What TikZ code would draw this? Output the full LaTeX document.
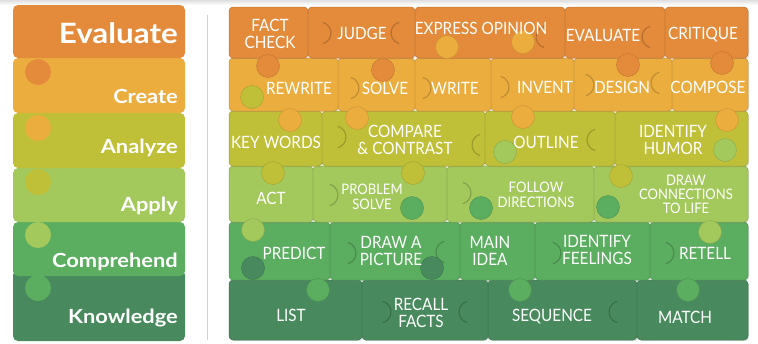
\documentclass[tikz,border=0pt]{standalone}
\usepackage{fontspec}
\setmainfont{Lato}
\newfontfamily\pz[FakeStretch=0.9]{Lato}
\newfontfamily\lv[FakeStretch=1.12]{Lato}
\usetikzlibrary{shadows}
\definecolor{cEv}{HTML}{E38A3B}
\definecolor{cCr}{HTML}{ECAD3F}
\definecolor{cAn}{HTML}{BFC038}
\definecolor{cAp}{HTML}{A3C85C}
\definecolor{cCo}{HTML}{5BAD60}
\definecolor{cKn}{HTML}{488A5E}
\tikzset{
  rowbox/.style={fill=#1, rounded corners=5pt},
  piece/.style={fill=#1, draw=#1!85!black, line width=0.5pt, rounded corners=4pt,
    drop shadow={opacity=0.22, shadow xshift=1.2pt, shadow yshift=-1.2pt}},
  knobc/.style={fill=#1, draw=#1!85!black, line width=0.4pt},
  crescent/.style={draw=#1!60!black, line width=1.1pt, opacity=0.5},
  lab/.style={text=white, font=\pz\fontsize{17}{17}\selectfont, align=center, inner sep=0pt},
  lvl/.style={text=white, font=\lv\bfseries\fontsize{19.5}{20}\selectfont, anchor=base east, inner sep=0pt},
}
\newcommand\knob[3]{\draw[knobc=#3] (#1,#2) circle (11.5);}
\newcommand\tabR[3]{\draw[crescent=#3] (#1,#2) ++(-75:11) arc[start angle=-75,end angle=75,radius=11];}
\newcommand\tabL[3]{\draw[crescent=#3] (#1,#2) ++(105:11) arc[start angle=105,end angle=255,radius=11];}
\begin{document}
\begin{tikzpicture}[x=1pt,y=-1pt]
\useasboundingbox (0,0) rectangle (758,343);
\fill[white] (0,0) rectangle (758,343);
\shade[top color=gray!25, bottom color=white] (0,0) rectangle (758,5);
% left column
\fill[rowbox=cKn] (13,270) rectangle (185,341);
\fill[rowbox=cCo] (13,222) rectangle (185,276);
\fill[rowbox=cAp] (13,168) rectangle (185,222);
\fill[rowbox=cAn] (13,113) rectangle (185,168);
\fill[rowbox=cCr] (13,58) rectangle (185,113);
\fill[rowbox=cEv] (13,5) rectangle (185,58);
\fill[cEv] (38,72) circle (13);
\fill[cCr] (38,128) circle (13);
\fill[cAn] (38,182) circle (13);
\fill[cAp] (38,235) circle (13);
\fill[cCo] (38,288) circle (13);
\node[lvl, font=\lv\bfseries\fontsize{28}{28}\selectfont] (lEv) at (178,43) {Evaluate};
\node[lvl] (lCr) at (178,103) {Create};
\node[lvl] (lAn) at (178,153) {Analyze};
\node[lvl] (lAp) at (178,211) {Apply};
\node[lvl] (lCo) at (178,267) {Comprehend};
\node[lvl] (lKn) at (178,323) {Knowledge};
% separator
\draw[gray!35, line width=0.8pt] (207,15) -- (207,340);
% row 6
\draw[piece=cKn] (229,280) rectangle (362,340);
\draw[piece=cKn] (362,280) rectangle (488,340);
\draw[piece=cKn] (488,280) rectangle (637,340);
\draw[piece=cKn] (637,280) rectangle (748,340);
% row 5
\draw[piece=cCo] (229,222) rectangle (330,280);
\draw[piece=cCo] (330,222) rectangle (460,280);
\draw[piece=cCo] (460,222) rectangle (535,280);
\draw[piece=cCo] (535,222) rectangle (650,280);
\draw[piece=cCo] (650,222) rectangle (748,280);
% row 4
\draw[piece=cAp] (229,166) rectangle (313,222);
\draw[piece=cAp] (313,166) rectangle (447,222);
\draw[piece=cAp] (447,166) rectangle (594,222);
\draw[piece=cAp] (594,166) rectangle (748,222);
% row 3
\draw[piece=cAn] (229,111) rectangle (322,166);
\draw[piece=cAn] (322,111) rectangle (485,166);
\draw[piece=cAn] (485,111) rectangle (615,166);
\draw[piece=cAn] (615,111) rectangle (748,166);
% row 2
\draw[piece=cCr] (229,58) rectangle (338,111);
\draw[piece=cCr] (338,58) rectangle (415,111);
\draw[piece=cCr] (415,58) rectangle (491,111);
\draw[piece=cCr] (491,58) rectangle (574,111);
\draw[piece=cCr] (574,58) rectangle (672,111);
\draw[piece=cCr] (672,58) rectangle (748,111);
% row 1
\draw[piece=cEv] (229,7) rectangle (308,58);
\draw[piece=cEv] (308,7) rectangle (415,58);
\draw[piece=cEv] (415,7) rectangle (565,58);
\draw[piece=cEv] (565,7) rectangle (665,58);
\draw[piece=cEv] (665,7) rectangle (748,58);
% same-row tabs
\tabR{320}{33}{cEv} \tabL{402}{33}{cEv} \tabL{547}{37}{cEv} \tabL{653}{37}{cEv}
\tabR{348}{88}{cCr} \tabR{420}{88}{cCr} \tabR{498}{87}{cCr} \tabR{583}{85}{cCr} \tabL{662}{83}{cCr}
\tabR{335}{137}{cAn} \tabL{483}{145}{cAn} \tabL{598}{140}{cAn}
\tabR{327}{195}{cAp} \tabR{460}{193}{cAp}
\tabR{345}{253}{cCo} \tabL{447}{252}{cCo} \tabR{550}{253}{cCo} \tabR{663}{253}{cCo}
\tabR{380}{312}{cKn} \tabL{470}{312}{cKn} \tabL{620}{312}{cKn}
% cross-row knobs
\knob{268}{66}{cEv} \knob{383}{70}{cEv} \knob{628}{65}{cEv} \knob{722}{63}{cEv}
\knob{447}{47}{cCr} \knob{523}{42}{cCr}
\knob{252}{97}{cAn}
\knob{290}{120}{cCr} \knob{357}{118}{cCr} \knob{523}{117}{cCr} \knob{727}{120}{cCr}
\knob{505}{152}{cAp} \knob{725}{150}{cAp}
\knob{273}{173}{cAn} \knob{413}{173}{cAn} \knob{621}{176}{cAn}
\knob{412}{208}{cCo} \knob{481}{208}{cCo} \knob{608}{207}{cCo}
\knob{253}{230}{cAp} \knob{710}{232}{cAp}
\knob{253}{268}{cKn} \knob{432}{268}{cKn}
\knob{318}{290}{cCo} \knob{520}{290}{cCo} \knob{688}{290}{cCo}
% labels
\node[lab] (fc) at (270,34) {FACT\\CHECK};
\node[lab] (ju) at (362,33) {JUDGE};
\node[lab] (eo) at (481,28) {EXPRESS OPINION};
\node[lab] (ev) at (603,35) {EVALUATE};
\node[lab] (cr) at (703,35) {CRITIQUE};
\node[lab] (rw) at (299,88) {REWRITE};
\node[lab] (so) at (385,88) {SOLVE};
\node[lab] (wr) at (455,88) {WRITE};
\node[lab] (in) at (545,87) {INVENT};
\node[lab] (de) at (622,87) {DESIGN};
\node[lab] (co) at (708,87) {COMPOSE};
\node[lab] (kw) at (276,142) {KEY WORDS};
\node[lab] (cc) at (405,140) {COMPARE\\\& CONTRAST};
\node[lab] (ou) at (546,142) {OUTLINE};
\node[lab] (ih) at (673,140) {IDENTIFY\\HUMOR};
\node[lab] (ac) at (271,198) {ACT};
\node[lab, font=\pz\fontsize{14.5}{15}\selectfont] (ps) at (372,197) {PROBLEM\\SOLVE};
\node[lab, font=\pz\fontsize{14.5}{15}\selectfont] (fd) at (536,195) {FOLLOW\\DIRECTIONS};
\node[lab, font=\pz\fontsize{14.5}{14}\selectfont] (dc) at (686,194) {DRAW\\CONNECTIONS\\TO LIFE};
\node[lab] (pr) at (294,253) {PREDICT};
\node[lab] (dp) at (391,251) {DRAW A\\PICTURE};
\node[lab] (mi) at (490,251) {MAIN\\IDEA};
\node[lab] (if) at (597,250) {IDENTIFY\\FEELINGS};
\node[lab] (re) at (705,253) {RETELL};
\node[lab] (li) at (291,315) {LIST};
\node[lab] (rf) at (421,313) {RECALL\\FACTS};
\node[lab] (se) at (552,317) {SEQUENCE};
\node[lab] (ma) at (685,317) {MATCH};
\end{tikzpicture}
\end{document}
